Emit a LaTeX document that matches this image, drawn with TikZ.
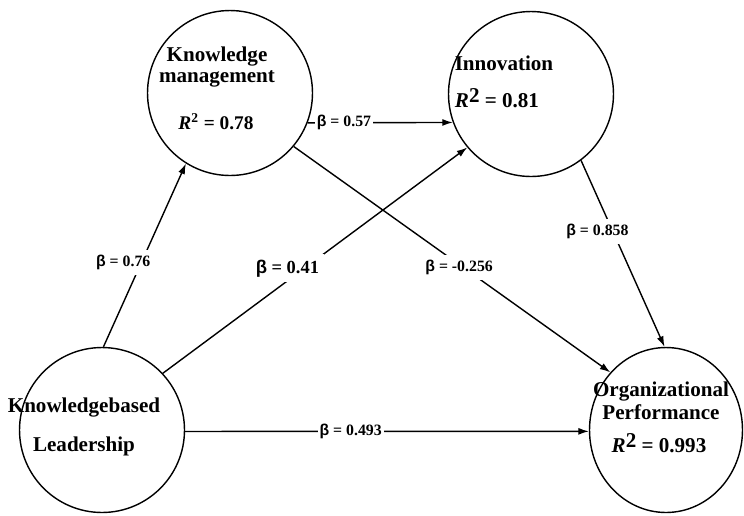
\documentclass[tikz,border=0pt]{standalone}
\usepackage{fontspec}
\setmainfont{Liberation Serif}
\newfontfamily\betafont{Liberation Sans}
\usetikzlibrary{arrows.meta,shapes.geometric}

\newcommand{\coefb}[1]{{\betafont β} = #1}

\begin{document}
\begin{tikzpicture}[x=0.02cm, y=-0.02cm,
	latent/.style={ellipse, draw, line width=0.8pt, minimum width=3.3cm, minimum height=3.3cm, inner sep=0pt},
	varname/.style={font=\fontsize{12}{12}\selectfont\bfseries, align=center, inner sep=0pt},
	rsq/.style={font=\fontsize{12}{12}\selectfont\bfseries, inner sep=0pt},
	coef/.style={font=\fontsize{9}{9}\selectfont\bfseries, fill=white, inner sep=3pt},
	effect/.style={line width=0.8pt, -{Latex[length=6pt, width=4pt]}}]
	\useasboundingbox (0,0) rectangle (744,515);
	% Latent variables
	\node[latent] (km) at (230,93) {};
	\node[latent] (inn) at (531,94) {};
	\node[latent] (kbl) at (102,430) {};
	\node[latent, minimum width=3.06cm] (op) at (666,430) {};
	% Names and R^2
	\node[varname] (kmname) at (217,67) {Knowledge\\management};
	\node[rsq, font=\fontsize{11}{11}\selectfont\bfseries] (kmrsq) at (216,122) {\textit{R}\textsuperscript{2} = 0.78};
	\node[varname] (innname) at (504,63) {Innovation};
	\node[rsq] (innrsq) at (497,98) {\textit{R}\raisebox{0.45ex}{2} = 0.81};
	\node[varname] (kblname) at (84,427) {Knowledgebased\\[10pt]Leadership};
	\node[varname, font=\fontsize{12}{13}\selectfont\bfseries] (opname) at (661,401) {Organizational\\Performance};
	\node[rsq] (oprsq) at (659,443) {\textit{R}\raisebox{0.45ex}{2} = 0.993};
	% Paths
	\draw[effect] (kbl.89) -- (km.238) node[coef, pos=0.5, xshift=-0.43cm, yshift=-0.15cm] (b1) {\coefb{0.76}};
	\draw[effect] (kbl.43) -- (inn.220) node[coef, font=\fontsize{10.5}{10.5}\selectfont\bfseries, pos=0.465, xshift=-0.34cm] (b2) {\coefb{0.41}};
	\draw[effect] (km.-21) -- (inn.200) node[coef, pos=0.25, inner sep=1pt] (b3) {\coefb{0.57}};
	\draw[effect] (km.-40) -- (op.134) node[coef, pos=0.576, xshift=-0.34cm, yshift=0.18cm] (b4) {\coefb{-0.256}};
	\draw[effect] (inn.-53) -- (op.91) node[coef, pos=0.34, xshift=-0.24cm, yshift=-0.16cm] (b5) {\coefb{0.858}};
	\draw[effect] (kbl.-1) -- (op.181) node[coef, pos=0.41, inner sep=1pt] (b6) {\coefb{0.493}};
\end{tikzpicture}
\end{document}
